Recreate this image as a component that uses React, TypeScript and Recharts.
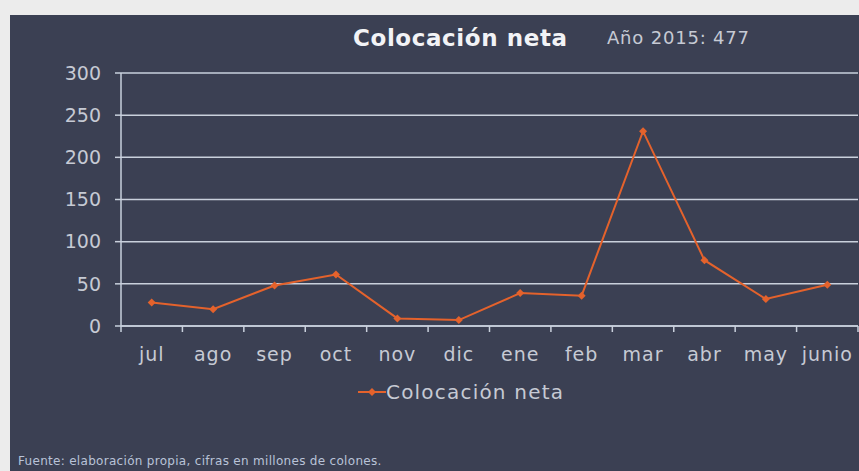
import { LineChart, Line, XAxis, YAxis, CartesianGrid, Legend } from 'recharts';

const months = ['jul', 'ago', 'sep', 'oct', 'nov', 'dic', 'ene', 'feb', 'mar', 'abr', 'may', 'junio'];
const colocacion = [28, 20, 48, 61, 9, 7, 39, 36, 231, 78, 32, 49];
const yTicks = [0, 50, 100, 150, 200, 250, 300];
const boundaryTicks = [0, 1, 2, 3, 4, 5, 6, 7, 8, 9, 10, 11, 12];

const data = months.map((m, i) => ({ month: m, pos: i + 0.5, value: colocacion[i] }));

const FONT = '"DejaVu Sans", sans-serif';
const ORANGE = '#e4622c';
const GRID = '#c9d0dc';
const LABEL = '#c6cad4';
const BAND = (858 - 121) / 12;

function MonthTick({ x, y, payload }: any) {
  const idx = payload.value;
  if (idx >= months.length) return null;
  return (
    <text x={x + BAND / 2} y={y + 27} textAnchor="middle" fill={LABEL} fontSize={19} letterSpacing={1} fontFamily={FONT}>
      {months[idx]}
    </text>
  );
}

function Diamond({ cx, cy }: any) {
  if (cx == null || cy == null) return null;
  const r = 4;
  return <path d={`M${cx},${cy - r}L${cx + r},${cy}L${cx},${cy + r}L${cx - r},${cy}Z`} fill={ORANGE} />;
}

function LegendContent() {
  return (
    <div style={{ display: 'flex', alignItems: 'center', fontFamily: FONT, fontSize: 20, letterSpacing: 1.2, color: LABEL }}>
      <svg width={28} height={12}>
        <line x1={0} y1={6} x2={28} y2={6} stroke={ORANGE} strokeWidth={2} />
        <path d="M14,2L18,6L14,10L10,6Z" fill={ORANGE} />
      </svg>
      <span>Colocación neta</span>
    </div>
  );
}

export default function App() {
  return (
    <div style={{ position: 'absolute', left: 0, top: 0, width: 859, height: 471, background: '#ececec', overflow: 'hidden' }}>
      <div style={{ position: 'absolute', left: 10, top: 15, width: 849, height: 456, background: '#3b4053' }} />
      <div style={{ position: 'absolute', left: 0, top: 0 }}>
        <LineChart width={859} height={471} data={data} margin={{ top: 73, right: 1, left: 0, bottom: 91 }}>
          <CartesianGrid vertical={false} stroke={GRID} strokeWidth={1.5} />
          <XAxis
            dataKey="pos"
            type="number"
            domain={[0, 12]}
            ticks={boundaryTicks}
            interval={0}
            height={30}
            tick={<MonthTick />}
            tickLine={{ stroke: GRID, strokeWidth: 1.5 }}
            axisLine={{ stroke: GRID, strokeWidth: 1.5 }}
            tickSize={6}
          />
          <YAxis
            width={121}
            domain={[0, 300]}
            ticks={yTicks}
            interval={0}
            tick={{ fill: LABEL, fontSize: 19, fontFamily: FONT }}
            tickLine={{ stroke: GRID, strokeWidth: 1.5 }}
            axisLine={{ stroke: GRID, strokeWidth: 1.5 }}
            tickSize={6}
            tickMargin={14}
          />
          <Legend
            content={<LegendContent />}
            wrapperStyle={{ position: 'absolute', left: 358, top: 380, width: 'auto' }}
          />
          <Line
            type="linear"
            dataKey="value"
            name="Colocación neta"
            stroke={ORANGE}
            strokeWidth={2}
            dot={<Diamond />}
            activeDot={false}
            isAnimationActive={false}
          />
        </LineChart>
      </div>
      <div style={{ position: 'absolute', left: 353, top: 25, fontFamily: FONT, fontSize: 23, letterSpacing: 0.6, fontWeight: 'bold', color: '#f2f3f6' }}>
        Colocación neta
      </div>
      <div style={{ position: 'absolute', left: 607, top: 27, fontFamily: FONT, fontSize: 18, letterSpacing: 0.8, color: LABEL }}>
        Año 2015: 477
      </div>
      <div style={{ position: 'absolute', left: 18, top: 454, fontFamily: FONT, fontSize: 12, letterSpacing: 0.3, color: '#b9c3d8' }}>
        Fuente: elaboración propia, cifras en millones de colones.
      </div>
    </div>
  );
}
